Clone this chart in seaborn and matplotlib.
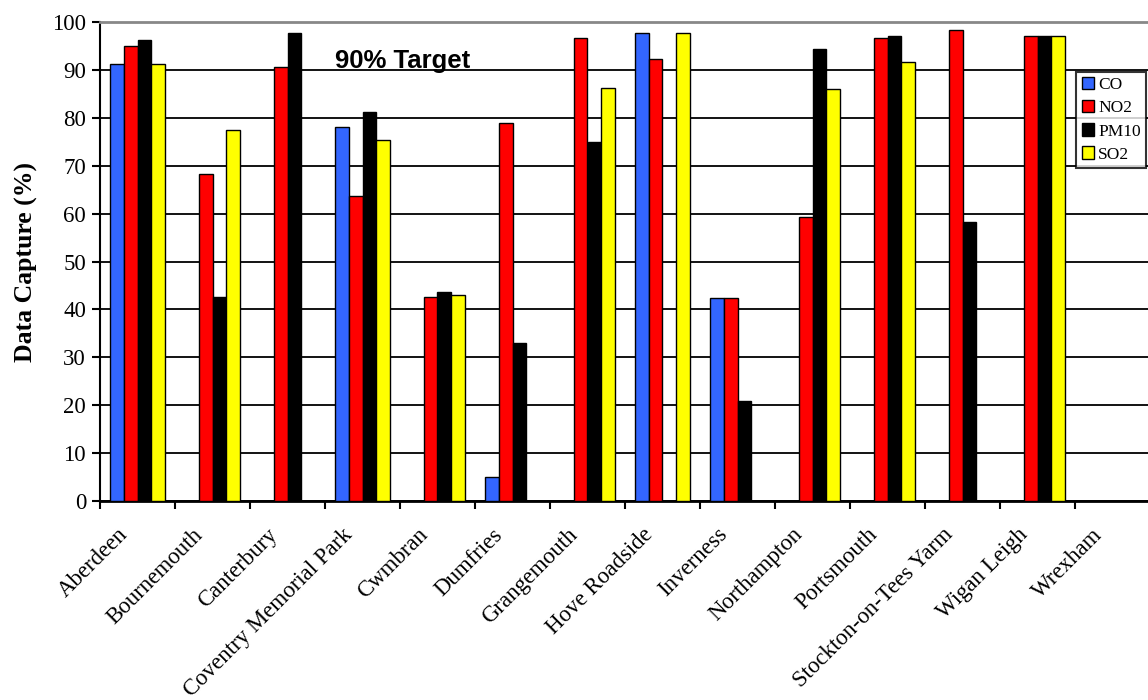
import numpy as np
import pandas as pd
import matplotlib
matplotlib.use("Agg")
import matplotlib.pyplot as plt
import matplotlib.transforms as mtransforms
import seaborn as sns

# Data capture (%) per monitoring site and pollutant (NaN = not monitored)
sites = ["Aberdeen", "Bournemouth", "Canterbury", "Coventry Memorial Park",
         "Cwmbran", "Dumfries", "Grangemouth", "Hove Roadside", "Inverness",
         "Northampton", "Portsmouth", "Stockton-on-Tees Yarm", "Wigan Leigh",
         "Wrexham"]
pollutants = ["CO", "NO2", "PM10", "SO2"]
nan = np.nan
co   = [91.3, nan, nan, 78.0, nan, 5.0, nan, 97.7, 42.3, nan, nan, nan, nan, nan]
no2  = [95.0, 68.3, 90.7, 63.6, 42.6, 79.0, 96.7, 92.3, 42.3, 59.3, 96.7, 98.3, 97.0, nan]
pm10 = [96.3, 42.6, 97.7, 81.3, 43.6, 33.0, 75.0, nan, 20.8, 94.3, 97.0, 58.3, 97.0, nan]
so2  = [91.3, 77.4, nan, 75.3, 43.0, nan, 86.3, 97.7, nan, 86.0, 91.6, nan, 97.0, nan]
target = 90
target_label = "90% Target"

colors = ["#3366FF", "#FF0000", "#000000", "#FFFF00"]

df = pd.DataFrame({
    "Site": np.repeat(sites, len(pollutants)),
    "Pollutant": pollutants * len(sites),
    "Capture": np.column_stack([co, no2, pm10, so2]).ravel(),
})

sns.set_style("white")
plt.rcParams["font.family"] = ["Liberation Serif", "DejaVu Serif"]
plt.rcParams.update({"text.color": "black", "axes.labelcolor": "black",
                     "xtick.color": "black", "ytick.color": "black"})

fig = plt.figure(figsize=(11.48, 7.0), dpi=100)
ax = fig.add_axes([100 / 1148, 1 - 501 / 700, 1050 / 1148, 479 / 700])

sns.barplot(data=df, x="Site", y="Capture", hue="Pollutant",
            order=sites, hue_order=pollutants, palette=colors,
            width=0.73, edgecolor="black", linewidth=1.0,
            saturation=1, ax=ax, zorder=3)

ax.set_ylim(0, 100)
ax.set_xlim(-0.5, len(sites) - 0.5)
ax.set_yticks(np.arange(0, 101, 10))
ax.yaxis.grid(True, color="black", linewidth=1.3)
ax.set_axisbelow(True)

ax.spines["right"].set_visible(False)
ax.spines["top"].set_color("#888888")
ax.spines["top"].set_linewidth(2.0)
ax.spines["left"].set_color("black")
ax.spines["left"].set_linewidth(1.5)
ax.spines["bottom"].set_color("black")
ax.spines["bottom"].set_linewidth(2.0)

# category boundary ticks; labels sit at the category centres
ax.set_xticks(np.arange(-0.5, len(sites), 1.0), minor=True)
ax.tick_params(axis="x", which="minor", direction="out", length=6, width=1.5,
               color="black", bottom=True)
ax.tick_params(axis="x", which="major", length=0, pad=22)
ax.tick_params(axis="y", direction="out", length=6, width=1.5, color="black",
               left=True, labelsize=16.5, pad=4)
ax.set_xticks(range(len(sites)))
ax.set_xticklabels(sites, rotation=45, ha="right", va="center",
                   rotation_mode="anchor", fontsize=16.5, color="black")
shift = mtransforms.ScaledTranslation(-13 / 100, 0, fig.dpi_scale_trans)
for lab in ax.get_xticklabels():
    lab.set_transform(lab.get_transform() + shift)

ax.set_xlabel("")
ax.set_ylabel("Data Capture (%)", fontsize=18.5, fontweight="bold",
              labelpad=10, color="black")

ax.text(2.63, target + 0.3, target_label, fontsize=18.5, fontweight="bold",
        family=["Liberation Sans", "DejaVu Sans"], va="baseline", ha="left",
        color="black", zorder=4)

handles, labels = ax.get_legend_handles_labels()
for h in handles:
    h.set_edgecolor("black")
    h.set_linewidth(1.0)
leg = ax.legend(handles, labels, loc="upper right",
                bbox_to_anchor=((1146 - 100) / 1050, (501 - 72) / 479),
                borderaxespad=0,
                fontsize=12.5, frameon=True, fancybox=False, shadow=False,
                handlelength=0.7, handleheight=0.7, handletextpad=0.25,
                labelspacing=0.4, borderpad=0.3)
leg.get_frame().set_edgecolor("black")
leg.get_frame().set_linewidth(1.5)
leg.set_zorder(5)
for t in leg.get_texts():
    t.set_color("black")

fig.savefig("out.png", dpi=100)
